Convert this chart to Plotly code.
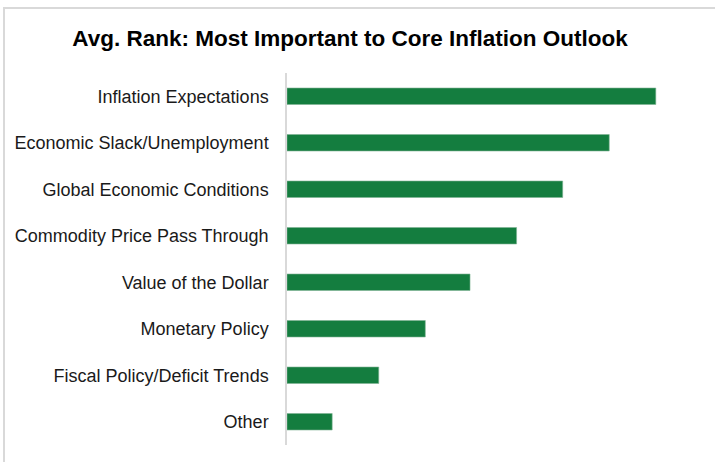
import plotly.graph_objects as go

# Survey factors and their average rank scores
factors = [
    "Inflation Expectations",
    "Economic Slack/Unemployment",
    "Global Economic Conditions",
    "Commodity Price Pass Through",
    "Value of the Dollar",
    "Monetary Policy",
    "Fiscal Policy/Deficit Trends",
    "Other",
]
avg_rank = [8.0, 6.99, 5.98, 4.98, 3.97, 3.0, 1.99, 0.98]

W, H = 715, 462
ML, MR, MT, MB = 287, 15, 73, 17
PW, PH = W - ML - MR, H - MT - MB

fig = go.Figure(
    go.Bar(
        x=avg_rank,
        y=factors,
        orientation="h",
        marker=dict(color="#147D3F", line=dict(color="#7FB394", width=0.6)),
        hoverinfo="x+y",
    )
)

# Outer frame of the chart panel
fig.add_shape(
    type="rect", xref="paper", yref="paper",
    x0=(4 - ML) / PW, x1=(W + 10 - ML) / PW,
    y0=(H - MB - (H + 10)) / PH, y1=(H - MB - 8) / PH,
    line=dict(color="#D9D9D9", width=2), fillcolor="rgba(0,0,0,0)", layer="below",
)

fig.update_layout(
    width=W, height=H,
    margin=dict(l=ML, r=MR, t=MT, b=MB),
    paper_bgcolor="white", plot_bgcolor="white",
    bargap=0.645,
    showlegend=False,
    title=dict(
        text="<b>Avg. Rank: Most Important to Core Inflation Outlook</b>",
        x=(350 - ML) / PW, xref="paper", xanchor="center",
        y=(H - 38) / H, yanchor="middle",
        font=dict(family="Liberation Sans, Arial, sans-serif", size=22.5, color="#000000"),
    ),
    font=dict(family="Liberation Sans, Arial, sans-serif", size=18, color="#1A1A1A"),
)

fig.update_xaxes(
    range=[0, PW / 46.1],
    visible=False,
)
fig.update_yaxes(
    autorange="reversed",
    showline=True, linecolor="#D9D9D9", linewidth=1.5,
    showgrid=False, ticks="",
    ticklabelstandoff=13,
    tickfont=dict(size=18, color="#1A1A1A"),
)

fig.write_html("out.html")
